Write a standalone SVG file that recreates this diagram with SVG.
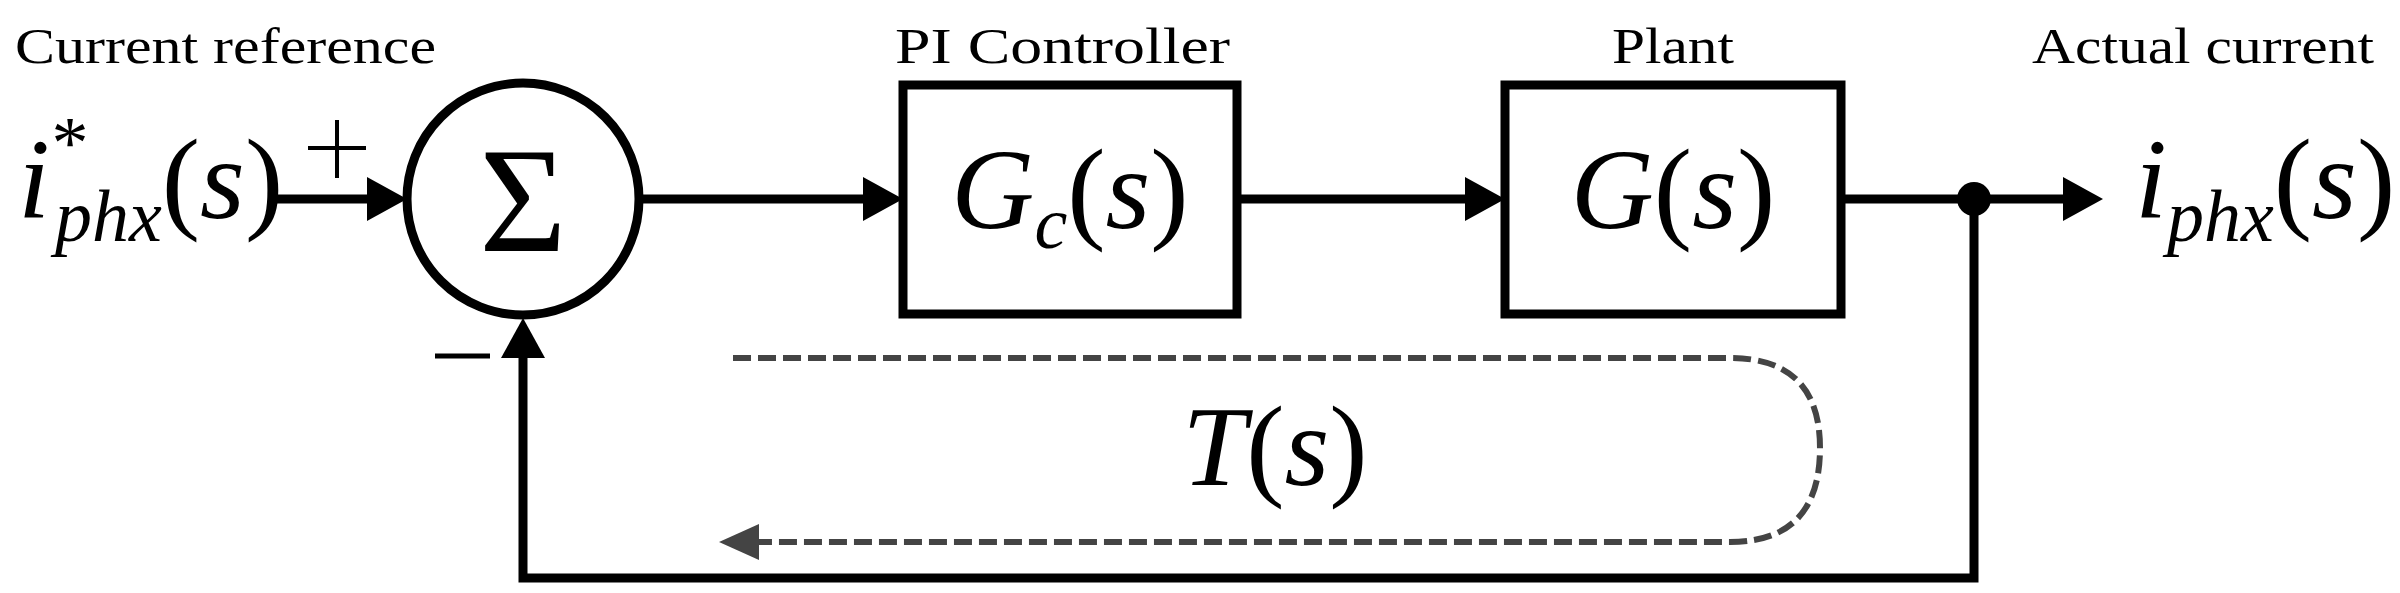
<svg xmlns="http://www.w3.org/2000/svg" width="2400" height="593" viewBox="0 0 2400 593">
<style>
text{font-family:'Liberation Serif','Times New Roman','DejaVu Serif',serif;fill:#000}
.lbl{font-size:50px}
.m{font-size:115px}
.it{font-style:italic}
.sub{font-size:74px;font-style:italic}
.ln{stroke:#000;stroke-width:9;fill:none}
.box{stroke:#000;stroke-width:9;fill:#fff}
.dash{stroke:#444;stroke-width:6;fill:none;stroke-dasharray:18,7}
</style>
<g id="labels">
<text class="lbl" x="15" y="63" textLength="421" lengthAdjust="spacingAndGlyphs">Current reference</text>
<text class="lbl" x="895" y="63" textLength="335" lengthAdjust="spacingAndGlyphs">PI Controller</text>
<text class="lbl" x="1612" y="63" textLength="122" lengthAdjust="spacingAndGlyphs">Plant</text>
<text class="lbl" x="2032" y="63" textLength="342" lengthAdjust="spacingAndGlyphs">Actual current</text>
</g>
<g id="connectors">
<line class="ln" x1="275" y1="199" x2="370" y2="199"/><path d="M367,177 L407,199 L367,221 z"/>
<line class="ln" x1="639" y1="199" x2="866" y2="199"/><path d="M863,177 L903,199 L863,221 z"/>
<line class="ln" x1="1237" y1="199" x2="1468" y2="199"/><path d="M1465,177 L1505,199 L1465,221 z"/>
<line class="ln" x1="1841" y1="199" x2="2066" y2="199"/><path d="M2063,177 L2103,199 L2063,221 z"/>
<circle cx="1974" cy="199" r="17"/>
<polyline class="ln" points="1974,199 1974,578 523,578 523,355"/><path d="M501,358 L523,318 L545,358 z"/>
<path class="dash" d="M733,358 L1730,358 Q1820,358 1820,448 Q1820,542 1730,542 L758,542"/>
<path d="M759,524 L719,542 L759,560 z" fill="#444"/>
<line x1="308" y1="148" x2="366" y2="148" stroke="#000" stroke-width="4"/>
<line x1="337" y1="120" x2="337" y2="178" stroke="#000" stroke-width="4"/>
<line x1="435" y1="356" x2="490" y2="356" stroke="#000" stroke-width="5"/>
</g>
<g id="input"><text class="m" x="18" y="218"><tspan class="it">i</tspan><tspan class="sub" dx="-2" dy="-50">*</tspan><tspan class="sub" dx="-30" dy="73">phx</tspan><tspan dy="-23">(</tspan><tspan class="it">s</tspan>)</text></g>
<g id="sum"><circle class="box" cx="523" cy="199" r="116"/><text x="523" y="251" font-size="150" text-anchor="middle">Σ</text></g>
<g id="controller"><rect class="box" x="903" y="85" width="334" height="229"/><text class="m" x="1070" y="228" text-anchor="middle"><tspan class="it">G</tspan><tspan class="sub" dy="20">c</tspan><tspan dy="-20">(</tspan><tspan class="it">s</tspan>)</text></g>
<g id="plant"><rect class="box" x="1505" y="85" width="336" height="229"/><text class="m" x="1673" y="228" text-anchor="middle"><tspan class="it">G</tspan>(<tspan class="it">s</tspan>)</text></g>
<g id="output"><text class="m" x="2135" y="218"><tspan class="it">i</tspan><tspan class="sub" dy="23">phx</tspan><tspan dy="-23">(</tspan><tspan class="it">s</tspan>)</text></g>
<g id="loop"><text class="m" x="1275" y="485" text-anchor="middle"><tspan class="it">T</tspan>(<tspan class="it">s</tspan>)</text></g>
</svg>
